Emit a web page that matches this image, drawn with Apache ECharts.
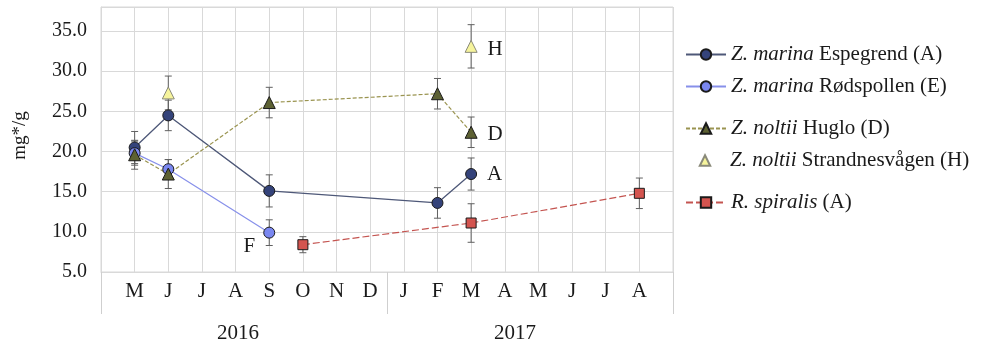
<!DOCTYPE html>
<html>
<head>
<meta charset="utf-8">
<script src="https://cdn.jsdelivr.net/npm/echarts@6/dist/echarts.min.js"></script>
<style>
  html, body { margin: 0; padding: 0; background: #ffffff; }
  #chart { width: 992px; height: 342px; }
</style>
</head>
<body>
<div id="chart"></div>
<script>
// Month slots on the time axis; an empty slot pads each end of the sampling period.
const monthKeys = ['2016-04', '2016-05', '2016-06', '2016-07', '2016-08', '2016-09', '2016-10', '2016-11', '2016-12',
                   '2017-01', '2017-02', '2017-03', '2017-04', '2017-05', '2017-06', '2017-07', '2017-08', '2017-09'];
const monthLabels = ['', 'M', 'J', 'J', 'A', 'S', 'O', 'N', 'D', 'J', 'F', 'M', 'A', 'M', 'J', 'J', 'A', ''];
const years = ['2016', '2017'];

// Z. marina, Espegrend
const espegrendDates = ['2016-05', '2016-06', '2016-09', '2017-02', '2017-03'];
const espegrendMean  = [20.5, 24.5, 15.1, 13.6, 17.2];
const espegrendSd    = [2.0, 1.9, 2.0, 1.9, 2.0];

// Z. marina, Rødspollen
const rodspollenDates = ['2016-05', '2016-06', '2016-09'];
const rodspollenMean  = [19.8, 17.8, 9.9];
const rodspollenSd    = [1.5, 1.2, 1.6];

// Z. noltii, Huglo
const hugloDates = ['2016-05', '2016-06', '2016-09', '2017-02', '2017-03'];
const hugloMean  = [19.6, 17.2, 26.1, 27.2, 22.4];
const hugloSd    = [1.8, 1.8, 1.9, 1.9, 1.9];

// Z. noltii, Strandnesvågen
const strandDates = ['2016-06', '2017-03'];
const strandMean  = [27.3, 33.1];
const strandSd    = [2.1, 2.7];

// R. spiralis
const spiralisDates = ['2016-10', '2017-03', '2017-08'];
const spiralisMean  = [8.4, 11.1, 14.8];
const spiralisSd    = [1.0, 2.4, 1.9];

const seriesNames = [
  'Z. marina Espegrend (A)',
  'Z. marina Rødspollen (E)',
  'Z. noltii Huglo (D)',
  'Z. noltii Strandnesvågen (H)',
  'R. spiralis (A)'
];
// Site letter written beside the last point of a series
const pointLetters = ['A', 'F', 'D', 'H', ''];

const FONT = 'Liberation Serif';
const INK = '#1a1a1a';
const GRID_COLOR = '#d9d9d9';

const styles = [
  { symbol: 'circle',   size: 11, fill: '#34437a', line: '#4e5878', width: 1.3, type: 'solid' },
  { symbol: 'circle',   size: 11, fill: '#7a87f0', line: '#8790ea', width: 1.2, type: 'solid' },
  { symbol: 'triangle', size: 12, fill: '#5d6133', line: '#9a9450', width: 1.2, type: [4, 2] },
  { symbol: 'triangle', size: 12, fill: '#f6f49c', line: '#f6f49c', width: 0,   type: 'solid', border: '#8a8a7a' },
  { symbol: 'rect',     size: 10, fill: '#d4544f', line: '#c45450', width: 1.2, type: [7, 3] }
];

const groups = [
  [espegrendDates, espegrendMean, espegrendSd],
  [rodspollenDates, rodspollenMean, rodspollenSd],
  [hugloDates, hugloMean, hugloSd],
  [strandDates, strandMean, strandSd],
  [spiralisDates, spiralisMean, spiralisSd]
];

const labelPlacement = [
  { position: 'right', distance: 10, offset: [0, 0] },
  { position: 'left',  distance: 8,  offset: [0, 14] },
  { position: 'right', distance: 10, offset: [0, 2] },
  { position: 'right', distance: 10, offset: [0, 3] },
  { position: 'right', distance: 10, offset: [0, 0] }
];

function renderErrorBar(params, api) {
  const x = api.value(0);
  const lo = api.coord([x, api.value(1)]);
  const hi = api.coord([x, api.value(2)]);
  const cap = 3.5;
  const style = { stroke: '#606060', lineWidth: 1 };
  return {
    type: 'group',
    children: [
      { type: 'line', shape: { x1: lo[0], y1: lo[1], x2: hi[0], y2: hi[1] }, style },
      { type: 'line', shape: { x1: lo[0] - cap, y1: lo[1], x2: lo[0] + cap, y2: lo[1] }, style },
      { type: 'line', shape: { x1: hi[0] - cap, y1: hi[1], x2: hi[0] + cap, y2: hi[1] }, style }
    ]
  };
}

const lineSeries = groups.map(([dates, mean], k) => {
  const st = styles[k];
  const last = dates.length - 1;
  return {
    name: seriesNames[k],
    type: 'line',
    z: 3,
    symbol: st.symbol,
    symbolSize: st.size,
    connectNulls: true,
    lineStyle: { color: st.line, width: st.width, type: st.type },
    itemStyle: { color: st.fill, borderColor: st.border || INK, borderWidth: 1 },
    emphasis: { disabled: true },
    data: dates.map((d, i) => {
      const item = { value: [d, mean[i]] };
      if (i === last && pointLetters[k]) {
        item.label = {
          show: true,
          formatter: pointLetters[k],
          position: labelPlacement[k].position,
          distance: labelPlacement[k].distance,
          offset: labelPlacement[k].offset,
          fontFamily: FONT,
          fontSize: 21,
          color: INK
        };
      }
      return item;
    })
  };
});

const errorSeries = groups.map(([dates, mean, sd], k) => ({
  name: 'sd-' + k,
  type: 'custom',
  z: 2,
  renderItem: renderErrorBar,
  encode: { x: 0, y: [1, 2] },
  silent: true,
  data: dates.map((d, i) => [d, +(mean[i] - sd[i]).toFixed(2), +(mean[i] + sd[i]).toFixed(2)])
}));

const legendTops = [44, 76, 118, 150, 192];
const legendRich = {
  i: { fontFamily: FONT, fontSize: 21, fontStyle: 'italic', color: INK, lineHeight: 22 },
  n: { fontFamily: FONT, fontSize: 21, color: INK, lineHeight: 22 }
};

const chart = echarts.init(document.getElementById('chart'), null, { renderer: 'canvas' });
chart.setOption({
  animation: false,
  backgroundColor: '#ffffff',
  textStyle: { fontFamily: FONT },
  grid: {
    left: 101, right: 319, top: 7, bottom: 70,
    outerBoundsMode: 'none',
    containLabel: false,
    show: true, borderColor: GRID_COLOR, borderWidth: 1
  },
  legend: seriesNames.map((name, k) => ({
    data: [name],
    left: 685,
    top: legendTops[k],
    padding: 0,
    itemWidth: 40,
    itemHeight: 13,
    selectedMode: false,
    textStyle: { fontFamily: FONT, fontSize: 21, color: INK, rich: legendRich },
    formatter: (n) => {
      const parts = n.match(/^(\S+ \S+)(.*)$/);
      return '{i|' + parts[1] + '}{n|' + parts[2] + '}';
    }
  })),
  xAxis: [
    {
      type: 'category',
      data: monthKeys,
      boundaryGap: false,
      position: 'bottom',
      offset: 0,
      axisLine: { show: true, lineStyle: { color: GRID_COLOR } },
      axisTick: { show: false },
      axisLabel: {
        interval: 0,
        margin: 9,
        fontFamily: FONT,
        fontSize: 21,
        color: INK,
        formatter: (v, i) => monthLabels[i]
      },
      splitLine: { show: true, interval: 0, lineStyle: { color: GRID_COLOR } }
    },
    {
      type: 'category',
      data: years,
      boundaryGap: true,
      position: 'bottom',
      offset: 0,
      axisLine: { show: false },
      axisTick: { show: true, length: 42, lineStyle: { color: '#cfcfcf' } },
      axisLabel: {
        margin: 51,
        fontFamily: FONT,
        fontSize: 21,
        color: INK,
        formatter: (v) => (v === years[0] ? '{a|' + v + '}' : '{b|' + v + '}'),
        rich: {
          a: { fontFamily: FONT, fontSize: 21, color: INK, padding: [0, 12, 0, 0] },
          b: { fontFamily: FONT, fontSize: 21, color: INK, padding: [0, 30, 0, 0] }
        }
      },
      splitLine: { show: false }
    }
  ],
  yAxis: {
    type: 'value',
    min: 5,
    max: 38,
    interval: 5,
    name: 'mg*/g',
    nameLocation: 'middle',
    nameGap: 71,
    nameTextStyle: { fontFamily: FONT, fontSize: 19, color: INK, padding: [0, 0, 0, 8] },
    axisLine: { show: true, lineStyle: { color: GRID_COLOR } },
    axisTick: { show: false },
    axisLabel: {
      margin: 14,
      fontFamily: FONT,
      fontSize: 20,
      color: INK,
      showMaxLabel: false,
      formatter: (v) => v.toFixed(1)
    },
    splitLine: { show: true, lineStyle: { color: GRID_COLOR } }
  },
  series: lineSeries.concat(errorSeries)
});
</script>
</body>
</html>
